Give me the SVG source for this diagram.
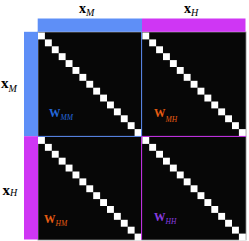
<svg xmlns="http://www.w3.org/2000/svg" xmlns:xlink="http://www.w3.org/1999/xlink" width="249" height="241" viewBox="0 0 249 241">
<style>
.lbl{font-family:"Liberation Serif","Times New Roman",serif;font-weight:bold;font-size:15px;fill:#000}
.top{font-size:14px}
.sub{font-family:"Liberation Serif","Times New Roman",serif;font-style:italic;font-weight:normal;font-size:10px}
.w{font-family:"Liberation Serif","Times New Roman",serif;font-weight:bold;font-size:11.5px}
.ws{font-style:italic;font-weight:normal;font-size:7.5px}
.sq{fill:#ffffff}
</style>
<defs>
<g id="diag">
<rect class="sq" x="0" y="0" width="6.9" height="6.9"/>
<rect class="sq" x="6.9" y="6.9" width="6.9" height="6.9"/>
<rect class="sq" x="13.8" y="13.8" width="6.9" height="6.9"/>
<rect class="sq" x="20.7" y="20.7" width="6.9" height="6.9"/>
<rect class="sq" x="27.6" y="27.6" width="6.9" height="6.9"/>
<rect class="sq" x="34.5" y="34.5" width="6.9" height="6.9"/>
<rect class="sq" x="41.4" y="41.4" width="6.9" height="6.9"/>
<rect class="sq" x="48.3" y="48.3" width="6.9" height="6.9"/>
<rect class="sq" x="55.2" y="55.2" width="6.9" height="6.9"/>
<rect class="sq" x="62.1" y="62.1" width="6.9" height="6.9"/>
<rect class="sq" x="69" y="69" width="6.9" height="6.9"/>
<rect class="sq" x="75.9" y="75.9" width="6.9" height="6.9"/>
<rect class="sq" x="82.8" y="82.8" width="6.9" height="6.9"/>
<rect class="sq" x="89.7" y="89.7" width="6.9" height="6.9"/>
<rect class="sq" x="96.6" y="96.6" width="6.9" height="6.9"/>
</g>
</defs>
<rect x="0" y="0" width="249" height="241" fill="#ffffff"/>
<g id="matrix">
<rect x="38" y="32" width="208" height="208" fill="#070707" stroke="#8a8a8a" stroke-width="0.8"/>
</g>
<g id="bars">
<rect x="37.7" y="18.5" width="104.3" height="13.3" fill="#5e8ff7"/>
<rect x="142" y="18.5" width="103.5" height="13.3" fill="#cf36f4"/>
<rect x="24" y="31.8" width="14" height="104.4" fill="#5e8ff7"/>
<rect x="24" y="136.2" width="14" height="103.3" fill="#cf36f4"/>
</g>
<g id="block-MM"><use xlink:href="#diag" href="#diag" x="38" y="32.5"/></g>
<g id="block-MH"><use xlink:href="#diag" href="#diag" x="142.3" y="32.5"/></g>
<g id="block-HM"><use xlink:href="#diag" href="#diag" x="38" y="137"/></g>
<g id="block-HH"><use xlink:href="#diag" href="#diag" x="142.3" y="137"/></g>
<g id="dividers" stroke-width="1">
<line x1="141.6" y1="32" x2="141.6" y2="136.4" stroke="#5e8ff7"/>
<line x1="38" y1="136.4" x2="141.6" y2="136.4" stroke="#5e8ff7"/>
<line x1="141.6" y1="136.4" x2="141.6" y2="240" stroke="#cf36f4"/>
<line x1="141.6" y1="136.4" x2="246" y2="136.4" stroke="#cf36f4"/>
</g>
<g id="labels">
<text class="lbl top" x="79" y="12.5">x<tspan class="sub" dy="3">M</tspan></text>
<text class="lbl top" x="184" y="12.5">x<tspan class="sub" dy="3">H</tspan></text>
<text class="lbl" x="1" y="88">x<tspan class="sub" dy="4">M</tspan></text>
<text class="lbl" x="2.5" y="195">x<tspan class="sub" dy="1">H</tspan></text>
</g>
<g id="weights">
<text class="w" x="49" y="117" fill="#2468dc">W<tspan class="ws" dy="3">MM</tspan></text>
<text class="w" x="154" y="117" fill="#e65c12">W<tspan class="ws" dy="5">MH</tspan></text>
<text class="w" x="44" y="222.5" fill="#e65c12">W<tspan class="ws" dy="3.5">HM</tspan></text>
<text class="w" x="154" y="220.5" fill="#8a3ce0">W<tspan class="ws" dy="3.5">HH</tspan></text>
</g>
</svg>
